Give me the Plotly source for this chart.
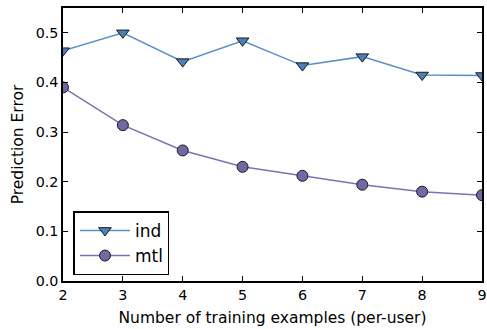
import plotly.graph_objects as go

x_vals = [2, 3, 4, 5, 6, 7, 8, 9]
ind_vals = [0.464, 0.500, 0.442, 0.484, 0.434, 0.452, 0.415, 0.414]
mtl_vals = [0.390, 0.314, 0.263, 0.230, 0.212, 0.194, 0.180, 0.173]
y_ticks = [0.0, 0.1, 0.2, 0.3, 0.4, 0.5]

blue = "#4a80b8"
purple = "#7566a5"

fig = go.Figure()
fig.add_trace(go.Scatter(
    x=x_vals, y=ind_vals, name="ind", mode="lines+markers",
    line=dict(color="#5a8fc6", width=1.5),
    marker=dict(symbol="triangle-down", size=11, color=blue,
                line=dict(color="#1a1a1a", width=1)),
))
fig.add_trace(go.Scatter(
    x=x_vals, y=mtl_vals, name="mtl", mode="lines+markers",
    line=dict(color="#8070b0", width=1.5),
    marker=dict(symbol="circle", size=11, color=purple,
                line=dict(color="#1a1a1a", width=1)),
))

axis_common = dict(
    showgrid=False, zeroline=False, showline=True, linecolor="black",
    linewidth=1.5, mirror="ticks", ticks="inside", ticklen=5,
    tickcolor="black", tickwidth=1, automargin=False,
    tickfont=dict(family="DejaVu Sans", size=14.3, color="black"),
)

fig.update_layout(
    width=487, height=329,
    margin=dict(l=63, r=5, t=8, b=48, autoexpand=False),
    paper_bgcolor="white", plot_bgcolor="white",
    font=dict(family="DejaVu Sans", color="black"),
    xaxis=dict(range=[2, 9], tickvals=x_vals,
               title=dict(text="Number of training examples (per-user)",
                          font=dict(size=15.5), standoff=10),
               **axis_common),
    yaxis=dict(range=[0, 0.55], tickvals=y_ticks, tickformat=".1f",
               title=dict(text="Prediction Error", font=dict(size=15.5), standoff=8),
               **axis_common),
    legend=dict(x=0.025, y=0.255, xanchor="left", yanchor="top",
                bgcolor="white", bordercolor="black", borderwidth=1.5,
                font=dict(size=17, family="DejaVu Sans"),
                itemwidth=50, tracegroupgap=4),
    showlegend=True,
)

fig.write_html("out.html", config={"displayModeBar": False},
               post_script="document.body.style.margin='0';document.body.style.padding='0';document.body.style.overflow='hidden';")
